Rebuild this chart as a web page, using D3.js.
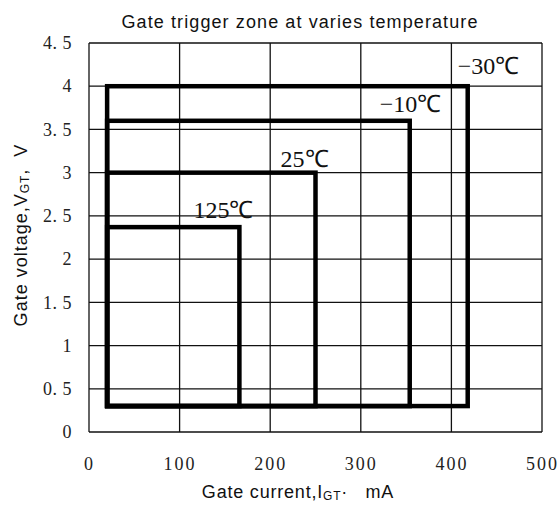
<!DOCTYPE html>
<html><head><meta charset="utf-8">
<script src="https://cdn.jsdelivr.net/npm/d3@7"></script>
<style>body{margin:0;background:#fff;}svg{display:block;}text{white-space:pre;}</style>
</head><body>
<script>
const xTicks = [0,100,200,300,400,500];
const yTicks = [0,0.5,1,1.5,2,2.5,3,3.5,4,4.5];
const yTickLabels = ["0","0. 5","1","1. 5","2","2. 5","3","3. 5","4","4. 5"];
const tempLabels = ["\u221230\u2103","\u221210\u2103","25\u2103","125\u2103"];
const currentMin = [20,20,20,20];
const currentMax = [418,354,250,166];
const voltageMin = [0.3,0.3,0.3,0.3];
const voltageMax = [4.0,3.6,3.0,2.37];

const W=558,H=505;
const m={l:89,r:542,t:43,b:432};
const svg=d3.select("body").append("svg").attr("width",W).attr("height",H);
const x=d3.scaleLinear().domain([0,500]).range([m.l,m.r]);
const y=d3.scaleLinear().domain([0,4.5]).range([m.b,m.t]);

// grid
svg.append("g").selectAll("line").data(xTicks).join("line")
 .attr("x1",d=>x(d)).attr("x2",d=>x(d)).attr("y1",m.t).attr("y2",m.b)
 .attr("stroke","#111").attr("stroke-width",1.3);
svg.append("g").selectAll("line").data(yTicks).join("line")
 .attr("x1",m.l).attr("x2",m.r).attr("y1",d=>y(d)).attr("y2",d=>y(d))
 .attr("stroke","#111").attr("stroke-width",1.3);

// axes labels via d3 axes (no lines)
const yAxis=svg.append("g").attr("transform",`translate(${m.l-17},0)`)
 .call(d3.axisLeft(y).tickValues(yTicks).tickFormat((d,i)=>yTickLabels[i]).tickSize(0).tickPadding(0));
yAxis.select(".domain").remove();
yAxis.selectAll("text").attr("font-family","Liberation Serif").attr("font-size",18)
 .attr("letter-spacing",0.5).attr("fill","#222");
const xAxis=svg.append("g").attr("transform",`translate(0,${m.b+25})`)
 .call(d3.axisBottom(x).tickValues(xTicks).tickFormat(d3.format("d")).tickSize(0).tickPadding(0));
xAxis.select(".domain").remove();
xAxis.selectAll("text").attr("font-family","Liberation Serif").attr("font-size",18)
 .attr("letter-spacing",2).attr("fill","#222");

// zones
const idx=d3.range(tempLabels.length);
svg.append("g").selectAll("rect").data(idx).join("rect")
 .attr("x",i=>x(currentMin[i])).attr("y",i=>y(voltageMax[i]))
 .attr("width",i=>x(currentMax[i])-x(currentMin[i]))
 .attr("height",i=>y(voltageMin[i])-y(voltageMax[i]))
 .attr("fill","none").attr("stroke","#000").attr("stroke-width",4.5);

const labelDx=[-10,-30,-35,-46], labelDy=[-12,-9,-6,-9];
svg.append("g").selectAll("text").data(idx).join("text")
 .attr("x",i=>x(currentMax[i])+labelDx[i]).attr("y",i=>y(voltageMax[i])+labelDy[i])
 .attr("text-anchor","start").attr("font-family","Liberation Serif").attr("font-size",24)
 .attr("fill","#111").text(i=>tempLabels[i]);

// title
svg.append("text").attr("x",300).attr("y",28).attr("text-anchor","middle")
 .attr("font-family","Liberation Sans").attr("font-size",18).attr("letter-spacing",1.1).attr("fill","#111")
 .text("Gate trigger zone at varies temperature");

// x title
const xt=svg.append("text").attr("x",298).attr("y",498).attr("text-anchor","middle")
 .attr("font-family","Liberation Sans").attr("font-size",18).attr("letter-spacing",0.8).attr("fill","#111");
xt.append("tspan").text("Gate current,I");
xt.append("tspan").attr("font-size",12).attr("dy",2).text("GT");
xt.append("tspan").attr("dy",-2).text("\u00b7   mA");

// y title
const yt=svg.append("text").attr("transform",`translate(27,235) rotate(-90)`)
 .attr("text-anchor","middle").attr("font-family","Liberation Sans").attr("font-size",18)
 .attr("letter-spacing",1).attr("fill","#111");
yt.append("tspan").text("Gate voltage,V");
yt.append("tspan").attr("font-size",12).attr("dy",2).text("GT");
yt.append("tspan").attr("dy",-2).text(",  V");
</script>
</body></html>
